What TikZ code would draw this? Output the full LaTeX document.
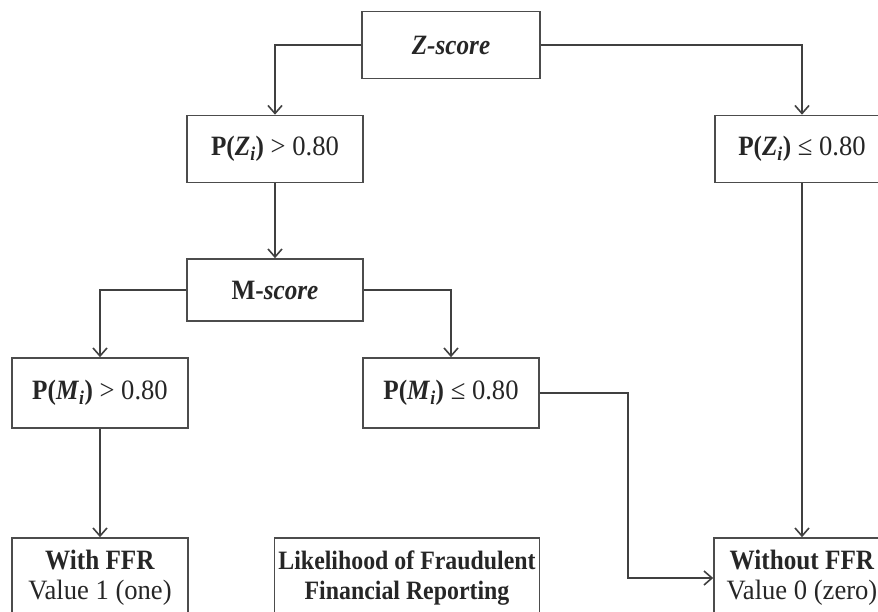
\documentclass[tikz,border=0pt]{standalone}
\usepackage{fontspec}
\setmainfont[FakeStretch=0.95,BoldFeatures={FakeStretch=0.9},BoldItalicFeatures={FakeStretch=0.9}]{Liberation Serif}
\usetikzlibrary{arrows.meta}

\begin{document}
\begin{tikzpicture}[x=1pt,y=-1pt,
  every node/.style={align=center,font=\fontsize{28}{30}\selectfont,text=black!85},
  box/.style={draw=black!70,line width=1.6pt,minimum width=176pt,minimum height=67pt,inner sep=0pt},
  link/.style={->,>={Straight Barb[length=8pt,width=14pt]},line width=1.6pt,draw=black!75}]

  % Frame of the picture
  \useasboundingbox (0,0) rectangle (878,611);
  \clip (0,0) rectangle (878,611);

  % Place the boxes
  \node[box,minimum width=178pt] (zscore) at (451,45) {\textbf{\textit{Z-score}}};
  \node[box] (pzhigh) at (275,149) {\textbf{P(\textit{Z}\textsubscript{\textit{i}})} > 0.80};
  \node[box,minimum width=174pt] (pzlow) at (802,149) {\textbf{P(\textit{Z}\textsubscript{\textit{i}})} ≤ 0.80};
  \node[box,minimum height=62pt] (mscore) at (275,290) {\textbf{M-\textit{score}}};
  \node[box,minimum height=70pt] (pmhigh) at (100,393) {\textbf{P(\textit{M}\textsubscript{\textit{i}})} > 0.80};
  \node[box,minimum height=70pt] (pmlow) at (451,393) {\textbf{P(\textit{M}\textsubscript{\textit{i}})} ≤ 0.80};
  \node[box,minimum height=80pt] (withffr) at (100,578) {\textbf{With FFR}\\Value 1 (one)};
  \node[box,minimum width=265pt,minimum height=80pt,font=\fontsize{26.5}{30}\selectfont] (likely) at (407,578)
    {\textbf{Likelihood of Fraudulent}\\\textbf{Financial Reporting}};
  \node[box,minimum height=80pt] (without) at (802,578) {\textbf{Without FFR}\\Value 0 (zero)};

  % Connect them
  \draw[link] (zscore.west) -| (pzhigh.north);
  \draw[link] (zscore.east) -| (pzlow.north);
  \draw[link] (pzhigh) -- (mscore);
  \draw[link] (mscore.west) -| (pmhigh.north);
  \draw[link] (mscore.east) -| (pmlow.north);
  \draw[link] (pmhigh) -- (withffr);
  \draw[link] (pzlow) -- (without);
  \draw[link] (pmlow.east) -- ++(88,0) |- (without.west);
\end{tikzpicture}
\end{document}
